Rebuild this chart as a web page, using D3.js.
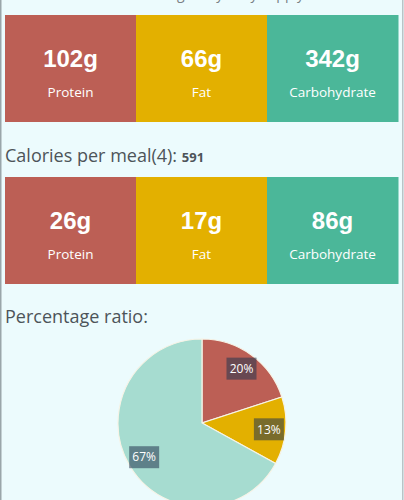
<!DOCTYPE html>
<html>
<head>
<meta charset="utf-8">
<script src="https://cdn.jsdelivr.net/npm/d3@7"></script>
<style>
  html, body { margin: 0; padding: 0; background: #ecfbfd; }
  svg { display: block; }
</style>
</head>
<body>
<svg id="chart" width="404" height="500"></svg>
<script>
const categories = ["Protein", "Fat", "Carbohydrate"];
const dailyGrams = [102, 66, 342];
const mealGrams = [26, 17, 86];
const percentages = [20, 13, 67];
const mealsPerDay = 4;
const caloriesPerMeal = 591;

const boxColors = ["#bc5f55", "#e3b000", "#4bb799"];
const pieColors = ["#bc5f55", "#e3b000", "#a6dcd0"];

const svg = d3.select("#chart");
const W = 404, H = 500;

svg.append("rect").attr("width", W).attr("height", H).attr("fill", "#ecfbfd");
// panel borders
svg.append("rect").attr("x", 0).attr("y", 0).attr("width", 1.5).attr("height", H).attr("fill", "#9aa6aa");
svg.append("rect").attr("x", 402).attr("y", 0).attr("width", 1.5).attr("height", H).attr("fill", "#b8c4c7");

// header line, mostly scrolled off the top in the reference
svg.append("text")
  .attr("x", 200).attr("y", -1.5)
  .attr("text-anchor", "middle")
  .attr("font-family", "'Open Sans', sans-serif")
  .attr("font-size", 14)
  .attr("fill", "#7a8084")
  .text("Nutrition targets by daily supply");

const x = d3.scaleBand().domain(categories).range([5, 398]).padding(0);

function drawRow(top, values) {
  const g = svg.append("g").attr("transform", `translate(0,${top})`);
  const cell = g.selectAll("g.cell").data(categories).join("g").attr("class", "cell");
  cell.append("rect")
    .attr("x", d => x(d)).attr("y", 0)
    .attr("width", x.bandwidth() + 0.5).attr("height", 107)
    .attr("fill", (d, i) => boxColors[i]);
  cell.append("text")
    .attr("x", d => x(d) + x.bandwidth() / 2).attr("y", 52)
    .attr("text-anchor", "middle")
    .attr("font-family", "'Liberation Sans', Arial, sans-serif")
    .attr("font-weight", "bold")
    .attr("font-size", 24)
    .attr("fill", "#fff")
    .text((d, i) => values[i] + "g");
  cell.append("text")
    .attr("x", d => x(d) + x.bandwidth() / 2).attr("y", 82)
    .attr("text-anchor", "middle")
    .attr("font-family", "'Open Sans', sans-serif")
    .attr("font-size", 13.5)
    .attr("fill", "#fff")
    .text(d => d);
}

drawRow(15, dailyGrams);

const t2 = svg.append("text")
  .attr("x", 5).attr("y", 162)
  .attr("font-family", "'Open Sans', sans-serif")
  .attr("fill", "#4d5459");
t2.append("tspan").attr("font-size", 18).text(`Calories per meal(${mealsPerDay}): `);
t2.append("tspan").attr("font-size", 13).attr("font-weight", "bold").text(caloriesPerMeal);

drawRow(177, mealGrams);

svg.append("text")
  .attr("x", 5).attr("y", 323)
  .attr("font-family", "'Open Sans', sans-serif")
  .attr("font-size", 18)
  .attr("fill", "#4d5459")
  .text("Percentage ratio:");

// pie
const cx = 202, cy = 423, r = 84;
const pie = d3.pie().sort(null).value(d => d)(percentages);
const arc = d3.arc().innerRadius(0).outerRadius(r);
const labelArc = d3.arc().innerRadius(r * 0.8).outerRadius(r * 0.8);
const pg = svg.append("g").attr("transform", `translate(${cx},${cy})`);
pg.selectAll("path").data(pie).join("path")
  .attr("d", arc)
  .attr("fill", (d, i) => pieColors[i])
  .attr("stroke", "#f6f3e6")
  .attr("stroke-width", 1.2);

const lab = pg.selectAll("g.lab").data(pie).join("g").attr("class", "lab")
  .attr("transform", d => `translate(${labelArc.centroid(d)})`);
lab.append("rect")
  .attr("x", -15).attr("y", -11).attr("width", 30).attr("height", 22)
  .attr("fill", "rgba(35,52,78,0.55)");
lab.append("text")
  .attr("text-anchor", "middle").attr("dy", "0.35em")
  .attr("font-family", "'Open Sans', sans-serif")
  .attr("font-size", 12)
  .attr("fill", "#fff")
  .text(d => d.data + "%");
</script>
</body>
</html>
